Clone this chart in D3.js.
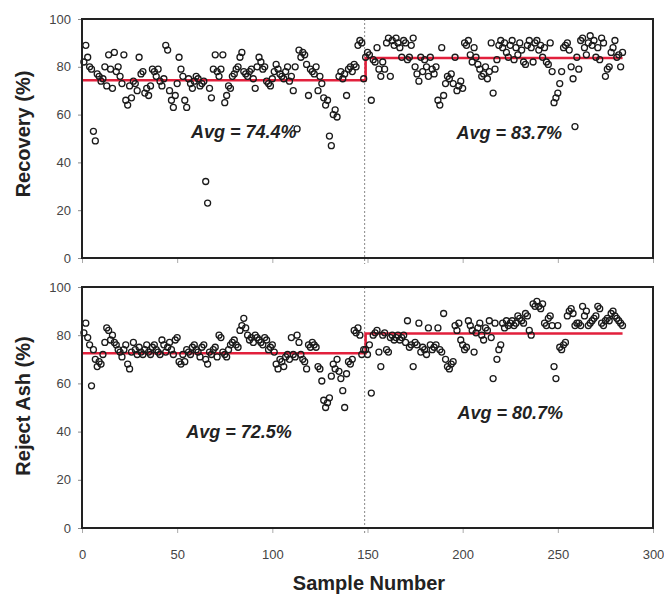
<!DOCTYPE html>
<html>
<head>
<meta charset="utf-8">
<script src="https://cdn.jsdelivr.net/npm/d3@7/dist/d3.min.js"></script>
<style>
  body { margin: 0; background: #fff; }
  svg { font-family: "Liberation Sans", Arial, sans-serif; display: block; }
</style>
</head>
<body>
<svg id="svg"></svg>
<script>
//data

// recovery (%), samples 1-148 then 149-284
let recoveryBefore = [
  82, 89, 84, 80, 79, 53, 49, 77, 76, 74,
  75, 80, 72, 85, 79, 71, 86, 78, 80, 76,
  73, 85, 66, 64, 72, 67, 74, 73, 70, 84,
  77, 78, 69, 71, 68, 72, 79, 78, 76, 79,
  74, 72, 75, 89, 87, 70, 66, 63, 68, 73,
  84, 79, 76, 66, 63, 75, 73, 71, 74, 76,
  75, 72, 73, 74, 32, 23, 71, 67, 79, 85,
  78, 76, 79, 85, 65, 68, 72, 71, 76, 77,
  79, 80, 84, 86, 78, 77, 76, 78, 79, 75,
  71, 80, 84, 82, 79, 80, 74, 73, 72, 75,
  78, 81, 79, 77, 76, 75, 78, 80, 74, 76,
  70, 80, 54, 87, 84, 86, 85, 81, 68, 79,
  78, 77, 80, 70, 76, 73, 67, 64, 66, 51,
  47, 60, 62, 59, 76, 78, 75, 77, 68, 79,
  80, 78, 81, 80, 89, 91, 90, 75
];
let recoveryAfter = [
  84, 86, 85, 66, 83, 82, 88, 79, 76, 82,
  79, 90, 92, 76, 91, 89, 92, 90, 88, 84,
  91, 90, 83, 84, 89, 92, 80, 77, 74, 84,
  78, 83, 80, 76, 84, 79, 77, 80, 66, 64,
  88, 68, 73, 76, 75, 77, 73, 84, 70, 72,
  74, 71, 90, 89, 91, 85, 82, 88, 84, 81,
  79, 76, 77, 80, 75, 78, 90, 69, 79, 83,
  89, 91, 88, 90, 86, 84, 89, 91, 83, 88,
  85, 90, 87, 82, 81, 89, 91, 88, 82, 90,
  91, 87, 89, 84, 88, 82, 81, 90, 78, 65,
  67, 69, 73, 78, 88, 89, 90, 87, 80, 75,
  55, 84, 79, 91, 92, 88, 85, 90, 93, 89,
  91, 84, 88, 83, 92, 90, 76, 79, 80, 86,
  88, 91, 84, 85, 80, 86
];

// reject ash (%), samples 1-148 then 149-284
let ashBefore = [
  81, 85, 79, 76, 59, 74, 70, 67, 69, 68,
  72, 77, 83, 82, 78, 80, 77, 76, 74, 73,
  71, 74, 76, 68, 66, 73, 77, 74, 72, 75,
  73, 72, 74, 76, 73, 72, 75, 76, 74, 73,
  72, 78, 76, 73, 75, 77, 74, 72, 78, 79,
  69, 68, 72, 69, 74, 73, 72, 75, 76, 74,
  73, 71, 75, 76, 70, 68, 73, 72, 74, 75,
  71, 80, 79, 73, 72, 71, 74, 76, 77, 78,
  76, 75, 82, 84, 87, 83, 80, 78, 79, 77,
  80, 79, 78, 77, 76, 79, 78, 74, 75, 76,
  73, 68, 66, 70, 69, 67, 71, 72, 70, 79,
  72, 71, 80, 77, 72, 70, 69, 66, 76, 75,
  77, 76, 75, 67, 66, 61, 53, 50, 52, 54,
  63, 68, 66, 70, 65, 62, 57, 50, 64, 69,
  68, 70, 82, 81, 83, 80, 72, 74
];
let ashAfter = [
  74, 72, 76, 56, 80, 81, 82, 73, 67, 80,
  81, 74, 73, 79, 80, 78, 79, 80, 78, 79,
  80, 77, 86, 75, 76, 67, 77, 76, 85, 73,
  75, 74, 72, 83, 76, 74, 75, 76, 83, 74,
  73, 89, 70, 67, 66, 68, 69, 84, 82, 85,
  78, 76, 74, 75, 86, 84, 82, 73, 81, 83,
  85, 80, 78, 83, 82, 86, 79, 62, 85, 70,
  74, 76, 85, 83, 86, 84, 85, 86, 84, 85,
  88, 87, 86, 85, 89, 88, 82, 80, 93, 92,
  94, 92, 91, 93, 85, 84, 87, 88, 84, 67,
  62, 84, 75, 74, 76, 77, 88, 90, 91, 89,
  84, 85, 85, 84, 92, 88, 90, 84, 85, 86,
  87, 88, 92, 91, 85, 84, 86, 87, 86, 89,
  90, 88, 87, 86, 85, 84
];

let avgRecovery = [74.4, 83.7];
let avgAsh = [72.5, 80.7];
let stepSample = 149;
let lastSample = 284;
let dividerSample = 148.5;

let xTicks = [0, 50, 100, 150, 200, 250, 300];
let yTicks = [0, 20, 40, 60, 80, 100];

//layout

let width = 664;
let height = 596;
let left = 82;
let right = 653;

let svg = d3.select("#svg")
  .attr("width", width)
  .attr("height", height);

let xScale = d3.scaleLinear()
  .domain([0, 300])
  .range([left, right]);

let panels = [
  {
    top: 19, bottom: 258, title: "Recovery (%)", titleY: 134,
    before: recoveryBefore, after: recoveryAfter, avg: avgRecovery,
    labels: [[85, 52.7], [224.5, 52.3]], showX: false
  },
  {
    top: 287, bottom: 528, title: "Reject Ash (%)", titleY: 406,
    before: ashBefore, after: ashAfter, avg: avgAsh,
    labels: [[82.5, 39.8], [225, 47.7]], showX: true
  }
];

//functions

let drawPanel = (p) => {
  let yScale = d3.scaleLinear()
    .domain([0, 100])
    .range([p.bottom, p.top]);

  let g = svg.append("g");

  // y axis
  let yAxis = d3.axisLeft(yScale)
    .tickValues(yTicks)
    .tickSize(4)
    .tickPadding(7);
  let ya = g.append("g")
    .attr("transform", "translate(" + left + ",0)")
    .call(yAxis);
  ya.select(".domain").remove();
  ya.selectAll("line").attr("stroke", "#888");
  ya.selectAll("text")
    .attr("font-size", 13)
    .attr("fill", "#444")
    .attr("font-family", "Liberation Sans, Arial, sans-serif");

  // x axis
  let xAxis = d3.axisBottom(xScale)
    .tickValues(xTicks)
    .tickSize(5)
    .tickPadding(17)
    .tickFormat(p.showX ? d3.format("d") : "");
  let xa = g.append("g")
    .attr("transform", "translate(0," + p.bottom + ")")
    .call(xAxis);
  xa.select(".domain").remove();
  xa.selectAll("line").attr("stroke", "#aaa");
  xa.selectAll("text")
    .attr("font-size", 13)
    .attr("fill", "#444")
    .attr("font-family", "Liberation Sans, Arial, sans-serif");

  // divider
  g.append("line")
    .attr("x1", xScale(dividerSample))
    .attr("x2", xScale(dividerSample))
    .attr("y1", p.top)
    .attr("y2", p.bottom + 6)
    .attr("stroke", "#888")
    .attr("stroke-width", 1)
    .attr("stroke-dasharray", "2,2");

  // average step line
  let avgPts = [
    [0, p.avg[0]], [stepSample, p.avg[0]],
    [stepSample, p.avg[1]], [lastSample, p.avg[1]]
  ];
  let line = d3.line()
    .x((d) => xScale(d[0]))
    .y((d) => yScale(d[1]));
  g.append("path")
    .datum(avgPts)
    .attr("d", line)
    .attr("fill", "none")
    .attr("stroke", "#e2203c")
    .attr("stroke-width", 2.6);

  // points
  let pts = p.before.concat(p.after).map((v, i) => ({ s: i + 1, v: v }));
  g.selectAll("circle")
    .data(pts)
    .enter()
    .append("circle")
    .attr("cx", (d) => xScale(d.s))
    .attr("cy", (d) => yScale(d.v))
    .attr("r", 3)
    .attr("fill", "none")
    .attr("stroke", "#1a1a1a")
    .attr("stroke-width", 1.3);

  // frame
  g.append("rect")
    .attr("x", left)
    .attr("y", p.top)
    .attr("width", right - left)
    .attr("height", p.bottom - p.top)
    .attr("fill", "none")
    .attr("stroke", "#222")
    .attr("stroke-width", 2);

  // avg labels
  p.labels.forEach((pos, i) => {
    g.append("text")
      .attr("x", xScale(pos[0]))
      .attr("y", yScale(pos[1]))
      .attr("text-anchor", "middle")
      .attr("dominant-baseline", "central")
      .attr("font-size", 18)
      .attr("font-weight", "bold")
      .attr("font-style", "italic")
      .attr("fill", "#222")
      .text("Avg = " + p.avg[i].toFixed(1) + "%");
  });

  // y title
  g.append("text")
    .attr("transform", "translate(30," + p.titleY + ") rotate(-90)")
    .attr("text-anchor", "middle")
    .attr("font-size", 20)
    .attr("font-weight", "bold")
    .attr("fill", "#222")
    .text(p.title);
};

panels.forEach(drawPanel);

svg.append("text")
  .attr("x", 369)
  .attr("y", 590)
  .attr("text-anchor", "middle")
  .attr("font-size", 20)
  .attr("font-weight", "bold")
  .attr("fill", "#222")
  .text("Sample Number");
</script>
</body>
</html>
